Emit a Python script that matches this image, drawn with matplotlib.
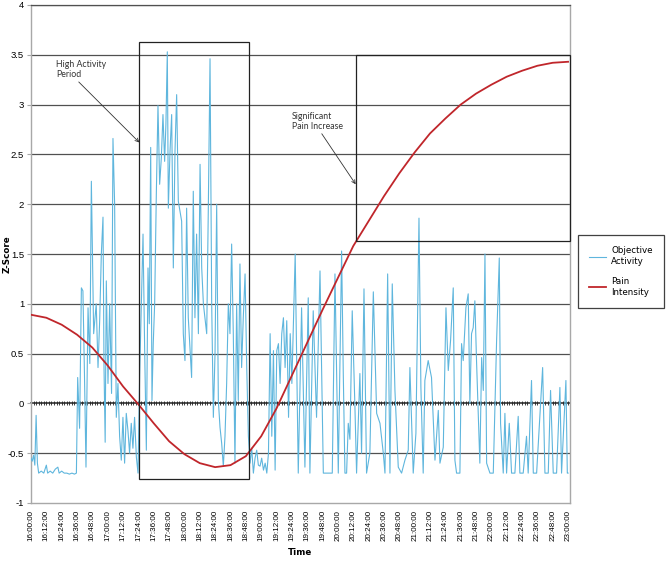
import numpy as np
import matplotlib.pyplot as plt
from matplotlib.patches import Rectangle

# minutes after 16:00
ACT_MIN = [
    0, 1, 2, 3, 4, 5, 6, 8, 10, 12, 13, 15, 17, 19, 21, 22, 24, 26, 28, 30,
    32, 34, 35.5, 36.5, 38, 39.4, 40.6, 41.8, 43, 44.6, 46, 47.2, 49, 51, 52.4,
    53.7, 55, 56.3, 57.1, 58, 58.9, 60.2, 61.5, 63, 64.1, 65.4, 66.7, 68, 69.3,
    70.6, 71.9, 73.2, 74.5, 75.8, 77.1, 78.4, 79.7, 81, 82.4, 83.7, 85, 86.3,
    87.6, 88.9, 90.2, 91.5, 92.5, 93.6, 94.6, 95.6, 96.7, 98, 99.3, 100.6,
    101.9, 103.2, 104.5, 105.5, 106.6, 107.4, 108.7, 110, 111.3, 112.6, 113.9,
    115.2, 117.8, 119.1, 120.4, 121.7, 123, 125.6, 126.9, 128.2, 129.5, 130.9,
    132.2, 133.5, 134.8, 137.4, 138.7, 140, 141.3, 142.6, 143.9, 145.2, 146.5,
    147.8, 149.1, 150.4, 151.7, 153, 154.3, 155.6, 156.9, 158.2, 159.5, 160.8,
    162.1, 163.4, 164.7, 166, 167.4, 168.7, 170, 171.3, 172.6, 173.9, 175.2,
    176.5, 177.8, 179.1, 180.4, 181.8, 183.1, 184.4, 185.7, 187, 188.3, 189.6,
    190.9, 192.2, 193.5, 194.8, 196.1, 197.4, 198.7, 200, 201.4, 202.7, 204,
    205.3, 206.6, 209, 211.6, 214.2, 216.8, 218.1, 220.7, 223.3, 226, 228.6,
    231.2, 233.8, 235.6, 237.7, 239, 240.3, 242.9, 244.2, 245.5, 246.8, 248.1,
    249.4, 251.2, 253.3, 254.6, 257.2, 258.5, 260.4, 262.4, 265, 267.7, 270.3,
    272.9, 275.5, 276.8, 278.9, 280.7, 282.5, 284.6, 287.2, 289.8, 292.4, 295,
    296.3, 298.9, 301, 303.4, 304.9, 306.7, 308, 310.6, 313.2, 315.9, 318.5,
    319.8, 322.4, 324.5, 326.3, 328.1, 330.2, 331.5, 332.8, 335.4, 336.7, 338,
    340.1, 341.9, 343.2, 344.5, 345.8, 347.1, 348.4, 351, 352.4, 353.7, 355,
    356.3, 358.9, 361.5, 364.1, 366.2, 367.2, 369.3, 370.6, 371.9, 374, 375.8,
    378.4, 381, 382.3, 384.9, 387.5, 388.8, 391.4, 392.8, 395.4, 400.1, 401.9,
    404.5, 406.3, 408.4, 411, 413.6, 414.9, 418.3, 419.4, 420,
]
ACT_Z = [
    -0.55, -0.58, -0.52, -0.62, -0.12, -0.60, -0.70, -0.68, -0.70, -0.62, -0.70,
    -0.68, -0.70, -0.66, -0.64, -0.70, -0.68, -0.70, -0.70, -0.71, -0.70, -0.71,
    -0.70, 0.26, -0.25, 1.16, 1.13, 0.30, -0.64, 0.96, 0.40, 2.23, 0.70, 1.00,
    0.36, 0.83, 1.50, 1.87, 0.36, -0.39, 1.23, 0.20, 1.00, 0.10, 2.66, 2.00,
    -0.14, 0.20, -0.33, -0.57, -0.14, -0.60, -0.10, -0.27, -0.50, -0.20, -0.45,
    -0.14, -0.54, -0.70, 0.30, 1.00, 1.70, 0.53, -0.47, 1.36, 0.80, 2.57, 0.03,
    0.60, 1.00, 2.10, 2.99, 2.20, 2.46, 2.90, 2.43, 2.80, 3.53, 1.96, 2.53,
    2.90, 1.36, 2.53, 3.10, 2.03, 1.83, 0.70, 0.43, 1.96, 0.86, 0.26, 2.13,
    0.86, 1.70, 0.70, 2.40, 1.36, 1.00, 0.70, 2.00, 3.46, 1.00, -0.14, 0.50,
    2.00, 0.03, -0.24, -0.40, -0.63, -0.33, 0.20, 1.00, 0.70, 1.60, 0.70,
    -0.60, 1.00, 0.03, 1.40, 0.36, 0.86, 1.30, 0.36, -0.33, -0.60, -0.45,
    -0.70, -0.55, -0.47, -0.62, -0.63, -0.55, -0.67, -0.60, -0.70, -0.50, 0.70,
    -0.33, 0.53, -0.67, 0.53, 0.60, 0.20, 0.70, 0.86, 0.36, 0.83, -0.14, 0.70,
    0.20, 0.83, 1.50, -0.70, 0.96, -0.64, 1.06, -0.70, 0.93, -0.14, 1.33,
    -0.70, -0.70, -0.70, -0.70, 1.30, 0.30, -0.70, 1.53, 0.30, -0.70, -0.70,
    -0.20, -0.36, 0.93, -0.03, -0.70, 0.30, -0.50, 1.15, -0.70, -0.50, 1.12,
    -0.10, -0.20, -0.50, -0.70, 1.30, -0.70, 1.20, 0.13, -0.64, -0.70, -0.57,
    -0.47, 0.36, -0.70, -0.30, 1.86, 0.16, -0.70, 0.23, 0.43, 0.26, -0.57,
    -0.07, -0.60, -0.44, 0.96, 0.33, 0.63, 1.16, -0.57, -0.70, -0.70, 0.60,
    0.43, 0.96, 1.10, 0.00, 0.70, 0.76, 1.03, 0.43, -0.60, 0.46, 0.13, 1.50,
    -0.60, -0.70, -0.70, 0.63, 1.46, -0.20, -0.70, -0.10, -0.70, -0.20, -0.70,
    -0.70, -0.13, -0.70, -0.70, -0.33, -0.70, 0.23, -0.70, -0.70, 0.36, -0.70,
    -0.70, 0.13, -0.70, -0.70, 0.16, -0.70, 0.23, -0.70, -0.70,
]

PAIN_MIN = list(range(0, 421, 12))
PAIN_Z = [
    0.89, 0.86, 0.79, 0.69, 0.56, 0.38, 0.17, -0.01, -0.20, -0.38, -0.51,
    -0.60, -0.64, -0.62, -0.53, -0.33, -0.05, 0.28, 0.61, 0.94, 1.26, 1.58,
    1.83, 2.08, 2.31, 2.52, 2.71, 2.86, 3.00, 3.11, 3.20, 3.28, 3.34, 3.39,
    3.42, 3.43,
]

TICK_MIN = list(range(0, 421, 12))
TICK_LABELS = [f"{16 + m // 60}:{m % 60:02d}:00" for m in TICK_MIN]
Y_TICKS = [-1, -0.5, 0, 0.5, 1, 1.5, 2, 2.5, 3, 3.5, 4]
Y_LABELS = ["-1", "-0.5", "0", "0.5", "1", "1.5", "2", "2.5", "3", "3.5", "4"]

BLUE = "#5fb6dd"
RED = "#c0262b"
GRID = "#505050"
EDGE = "#a8a8a8"

fig = plt.figure(figsize=(6.66, 5.65), dpi=100)
ax = fig.add_axes([31 / 666, 62 / 565, 539 / 666, 498 / 565])

ax.plot(ACT_MIN, ACT_Z, color=BLUE, lw=0.8, label="Objective\nActivity", zorder=3)
ax.plot(PAIN_MIN, PAIN_Z, color=RED, lw=1.3, label="Pain\nIntensity", zorder=4)

ax.set_xlim(0, 421.5)
ax.set_ylim(-1, 4)
ax.set_yticks(Y_TICKS)
ax.set_yticklabels(Y_LABELS, fontsize=6.8, family="Liberation Sans")
ax.set_xticks(TICK_MIN)
ax.set_xticklabels(TICK_LABELS, rotation=90, fontsize=5.8, family="Liberation Sans")
ax.tick_params(axis="x", length=0, pad=5)
ax.tick_params(axis="y", length=3, color=EDGE, pad=2)

for v in Y_TICKS[1:]:
    if v != 0:
        ax.axhline(v, color=GRID, lw=0.9, zorder=1)

for side in ["left", "right", "bottom"]:
    ax.spines[side].set_color(EDGE)
    ax.spines[side].set_linewidth(1.0)
ax.spines["top"].set_color(GRID)
ax.spines["top"].set_linewidth(0.9)

# category axis crossing at zero, with a tick at every sample
zero_ax = ax.secondary_xaxis(0.2)
zero_ax.set_xticks(np.arange(0, 421, 2))
zero_ax.set_xticklabels([])
zero_ax.tick_params(direction="inout", length=3, width=0.6, color="#222222")
zero_ax.spines["bottom"].set_color("#222222")
zero_ax.spines["bottom"].set_linewidth(1.1)

ax.add_patch(Rectangle((84.7, -0.757), 85.8, 4.39, fill=False,
                       edgecolor="#222222", lw=0.9, zorder=5))
ax.add_patch(Rectangle((253.9, 1.63), 421.5 - 253.9, 1.87, fill=False,
                       edgecolor="#222222", lw=0.9, zorder=5, clip_on=False))

ax.annotate("High Activity\nPeriod", xy=(84.7, 2.62), xytext=(19.5, 3.45),
            fontsize=6.3, family="Lato", va="top", ha="left", color="#333333",
            arrowprops=dict(arrowstyle="->", lw=0.6, color="#333333",
                            shrinkA=0, shrinkB=0, relpos=(0.4, 0)))
ax.annotate("Significant\nPain Increase", xy=(253.9, 2.20), xytext=(204, 2.93),
            fontsize=6.3, family="Lato", va="top", ha="left", color="#333333",
            arrowprops=dict(arrowstyle="->", lw=0.6, color="#333333",
                            shrinkA=0, shrinkB=0, relpos=(0.55, 0)))

ax.set_xlabel("Time", fontsize=6.3, fontweight="bold", labelpad=5)
ax.set_ylabel("Z-Score", fontsize=6.3, fontweight="bold")
ax.yaxis.set_label_coords(-0.036, 0.5)

leg = fig.legend(loc="upper left", bbox_to_anchor=(578 / 666, 1 - 235 / 565),
                 fontsize=6.3, frameon=True, fancybox=False, handlelength=1.9,
                 borderpad=1.3, labelspacing=1.3, handletextpad=0.6,
                 borderaxespad=0)
leg.get_frame().set_edgecolor("#111111")
leg.get_frame().set_linewidth(0.9)

fig.savefig("out.png", dpi=100)
